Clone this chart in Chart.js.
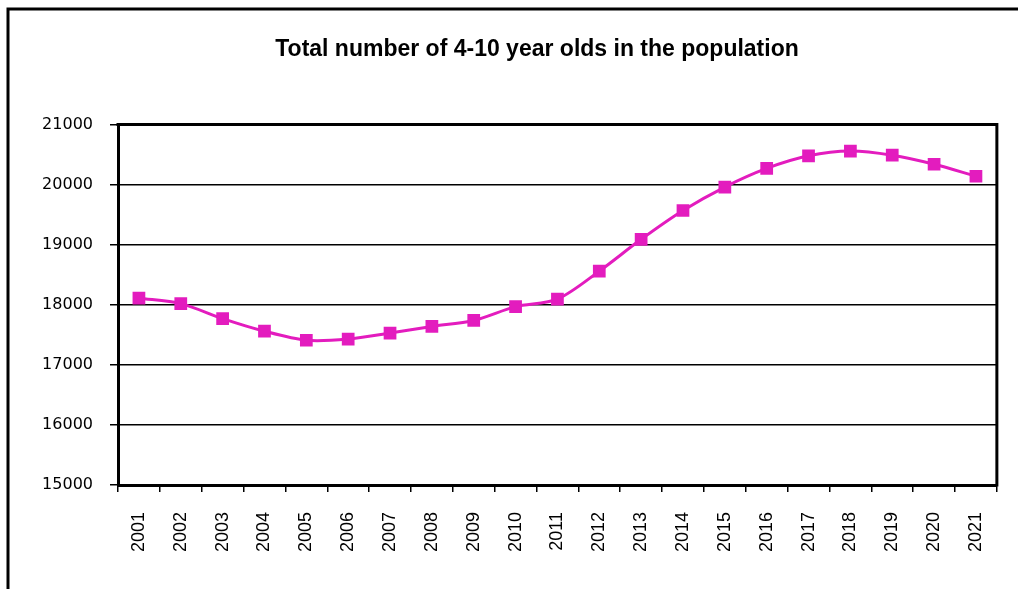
<!DOCTYPE html>
<html>
<head>
<meta charset="utf-8">
<script src="https://cdn.jsdelivr.net/npm/chart.js@4/dist/chart.umd.min.js"></script>
<style>
html,body{margin:0;padding:0;background:#fff;}
#c{display:block;}
</style>
</head>
<body>
<canvas id="c" width="1018" height="589"></canvas>
<script>
const titleText = 'Total number of 4-10 year olds in the population';
const years = ['2001','2002','2003','2004','2005','2006','2007','2008','2009','2010','2011','2012','2013','2014','2015','2016','2017','2018','2019','2020','2021'];
const children = [18110,18020,17770,17560,17410,17430,17530,17640,17740,17970,18095,18560,19090,19570,19960,20270,20480,20560,20490,20340,20140];
const yMin = 15000;
const yMax = 21000;
const yStep = 1000;

const framePlugin = {
  id: 'frame',
  afterLayout(chart) {
    if (chart.titleBlock) {
      chart.titleBlock.left = 75;
    }
  },
  beforeDraw(chart) {
    const ctx = chart.ctx;
    ctx.save();
    ctx.fillStyle = '#fff';
    ctx.fillRect(0, 0, chart.width, chart.height);
    ctx.strokeStyle = '#000';
    ctx.lineWidth = 3;
    ctx.beginPath();
    ctx.moveTo(8, 600);
    ctx.lineTo(8, 9);
    ctx.lineTo(1030, 9);
    ctx.stroke();
    ctx.restore();
  },
  afterDraw(chart) {
    const a = chart.chartArea;
    const ctx = chart.ctx;
    ctx.save();
    ctx.strokeStyle = '#000';
    ctx.lineWidth = 3;
    ctx.beginPath();
    ctx.moveTo(a.left - 1.5, a.top);
    ctx.lineTo(a.right, a.top);
    ctx.lineTo(a.right, a.bottom + 1.5);
    ctx.stroke();
    ctx.restore();
  }
};

new Chart(document.getElementById('c'), {
  type: 'line',
  data: {
    labels: years,
    datasets: [{
      data: children,
      borderColor: '#E31CBE',
      backgroundColor: '#E31CBE',
      borderWidth: 3,
      pointStyle: 'rect',
      pointRadius: 9,
      pointBorderWidth: 0,
      tension: 0.3,
      fill: false
    }]
  },
  options: {
    responsive: false,
    animation: false,
    layout: { padding: { left: 0, right: 19, top: 0, bottom: 0 } },
    plugins: {
      legend: { display: false },
      tooltip: { enabled: false },
      title: {
        display: true,
        text: titleText,
        color: '#000',
        font: { family: 'Liberation Sans, Arial, sans-serif', size: 23, weight: 'bold', lineHeight: 1.2 },
        padding: { top: 36, bottom: 61 }
      }
    },
    scales: {
      x: {
        offset: true,
        afterFit(s) { s.height = 104; },
        grid: { display: true, drawOnChartArea: false, drawTicks: true, tickLength: 7, offset: true, color: '#000', lineWidth: 1.5 },
        border: { display: true, color: '#000', width: 3 },
        ticks: {
          color: '#000',
          minRotation: 90, maxRotation: 90,
          padding: 20,
          autoSkip: false,
          font: { family: 'Liberation Sans, Arial, sans-serif', size: 18 }
        }
      },
      y: {
        min: yMin, max: yMax,
        afterFit(s) { s.width = 118; },
        grid: { color: '#000', lineWidth: 1.5, drawTicks: true, tickLength: 8 },
        border: { display: true, color: '#000', width: 3 },
        ticks: {
          stepSize: yStep,
          color: '#000',
          padding: 17,
          font: { family: 'DejaVu Sans, sans-serif', size: 16 },
          callback: v => String(v)
        }
      }
    }
  },
  plugins: [framePlugin]
});
</script>
</body>
</html>
